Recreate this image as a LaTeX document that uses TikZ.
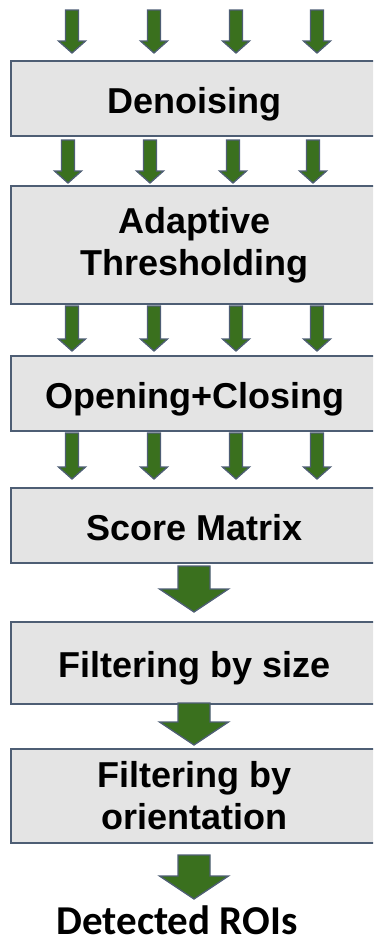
\documentclass[tikz,border=0pt]{standalone}
\usepackage{fontspec}
\setmainfont{Liberation Sans}
\newfontfamily\roifont{Carlito}

\definecolor{boxfill}{RGB}{228,228,228}
\definecolor{edge}{RGB}{78,94,116}
\definecolor{leaf}{RGB}{58,112,30}

\tikzset{
  stage/.style={draw=edge, fill=boxfill, line width=1.6pt, anchor=north west,
    minimum width=368pt, inner sep=0pt, align=center,
    font=\fontsize{36}{42}\selectfont\bfseries},
  oneline/.style={text height=30pt, text depth=0pt},
  flow/.style={draw=edge, fill=leaf, line width=1.3pt, line join=miter},
  result/.style={inner sep=0pt, anchor=base,
    font=\roifont\fontsize{41}{48}\selectfont\bfseries},
}

% narrow block arrow: centre x, top y, tip y
\newcommand\thinarrow[3]{%
  \filldraw[flow] (#1-6.5,#2) -- (#1+6.5,#2) -- (#1+6.5,#3-12) -- (#1+13.5,#3-12)
    -- (#1,#3) -- (#1-13.5,#3-12) -- (#1-6.5,#3-12) -- cycle;}
% wide block arrow: centre x, top y, tip y
\newcommand\widearrow[3]{%
  \filldraw[flow] (#1-16,#2) -- (#1+16,#2) -- (#1+16,#3-23) -- (#1+34.5,#3-23)
    -- (#1,#3) -- (#1-34.5,#3-23) -- (#1-16,#3-23) -- cycle;}

\begin{document}
\begin{tikzpicture}[x=1pt,y=-1pt]
\useasboundingbox (0,0) rectangle (373,943);
\clip (0,0) rectangle (373,943);

% processing stages
\node[stage,oneline,minimum height=75pt] (denoise) at (10,60) {Denoising};
\node[stage,minimum height=118pt] (thresh) at (10,185) {Adaptive\\Thresholding};
\node[stage,oneline,minimum height=75pt] (morph) at (10,355) {Opening+Closing};
\node[stage,oneline,minimum height=75pt] (score) at (10,487) {Score Matrix};
\node[stage,oneline,minimum height=82pt] (size) at (10,621) {Filtering by size};
\node[stage,minimum height=94pt] (orient) at (10,748) {Filtering by\\orientation};
\node[result] (rois) at (177,934) {Detected ROIs};

% four parallel streams
\foreach \x in {72,154,236,317} {\thinarrow{\x}{10}{53}}
\foreach \x in {68,150,233,313} {\thinarrow{\x}{140}{183}}
\foreach \x in {72,154,236,317} {\thinarrow{\x}{306}{351}}
\foreach \x in {72,154,236,317} {\thinarrow{\x}{433}{479}}

% single stream
\widearrow{194}{566}{612}
\widearrow{194}{703}{745}
\widearrow{194}{855}{899}
\end{tikzpicture}
\end{document}
